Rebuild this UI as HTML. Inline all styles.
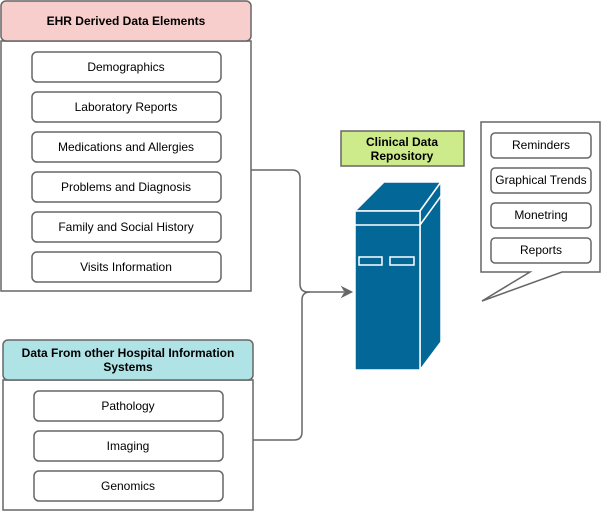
<!DOCTYPE html>
<html><head><style>body{margin:0;background:#fff}svg{display:block}text{font-family:"Liberation Sans",Arial,sans-serif;font-size:12px;fill:#000;text-anchor:middle;dominant-baseline:central}</style></head><body>
<svg width="602" height="512" viewBox="0 0 602 512" xmlns="http://www.w3.org/2000/svg">
<g stroke="#666" stroke-width="1.5" fill="#fff">
<rect x="1" y="41" width="250" height="250"/>
<rect x="1" y="1" width="250" height="40" rx="5" fill="#f8cecc"/>
<rect x="32" y="52" width="189" height="30" rx="5"/>
<rect x="32" y="92" width="189" height="30" rx="5"/>
<rect x="32" y="132" width="189" height="30" rx="5"/>
<rect x="32" y="172" width="189" height="30" rx="5"/>
<rect x="32" y="212" width="189" height="30" rx="5"/>
<rect x="32" y="252" width="189" height="30" rx="5"/>
<rect x="3" y="380" width="250" height="130"/>
<rect x="3" y="340" width="250" height="40" rx="5" fill="#b0e3e6"/>
<rect x="34" y="391" width="189" height="30" rx="5"/>
<rect x="34" y="431" width="189" height="30" rx="5"/>
<rect x="34" y="471" width="189" height="30" rx="5"/>
<rect x="341" y="131" width="123" height="35" fill="#cdeb8b"/>
<path d="M481,122 H600 V272 H562 L482,301 L530,272 H481 Z"/>
<rect x="491" y="133" width="100" height="25" rx="4"/>
<rect x="491" y="168" width="100" height="25" rx="4"/>
<rect x="491" y="203" width="100" height="25" rx="4"/>
<rect x="491" y="238" width="100" height="25" rx="4"/>
<path d="M251,170 H292 Q300,170 300,178 V284 Q300,292 308,292 H344" fill="none"/>
<path d="M253,440 H294 Q302,440 302,432 V300 Q302,292 310,292" fill="none"/>
</g>
<path d="M352,292 L342,287 L345,292 L342,297 Z" fill="#666" stroke="#666"/>
<g fill="#036897" stroke="#fff" stroke-width="1.5">
<path d="M355,211 L384,182 L441,182 L420,211 Z"/>
<path d="M420,211 L441,182 L441,342 L420,370 Z"/>
<rect x="355" y="211" width="65" height="159"/>
<line x1="355" y1="225" x2="420" y2="225"/>
<line x1="420" y1="225" x2="441" y2="196"/>
<rect x="359" y="257" width="23" height="8"/>
<rect x="390" y="257" width="24" height="8"/>
</g>
<text x="126" y="21" style="font-weight:bold">EHR Derived Data Elements</text>
<text x="126" y="67">Demographics</text>
<text x="126" y="107">Laboratory Reports</text>
<text x="126" y="147">Medications and Allergies</text>
<text x="126" y="187">Problems and Diagnosis</text>
<text x="126" y="227">Family and Social History</text>
<text x="126" y="267">Visits Information</text>
<text x="128" y="353" style="font-weight:bold">Data From other Hospital Information</text>
<text x="128" y="367" style="font-weight:bold">Systems</text>
<text x="128" y="406">Pathology</text>
<text x="128" y="446">Imaging</text>
<text x="128" y="486">Genomics</text>
<text x="402" y="142" style="font-weight:bold">Clinical Data</text>
<text x="402" y="156" style="font-weight:bold">Repository</text>
<text x="541" y="145">Reminders</text>
<text x="541" y="180">Graphical Trends</text>
<text x="541" y="215">Monetring</text>
<text x="541" y="250">Reports</text>
</svg>
</body></html>
